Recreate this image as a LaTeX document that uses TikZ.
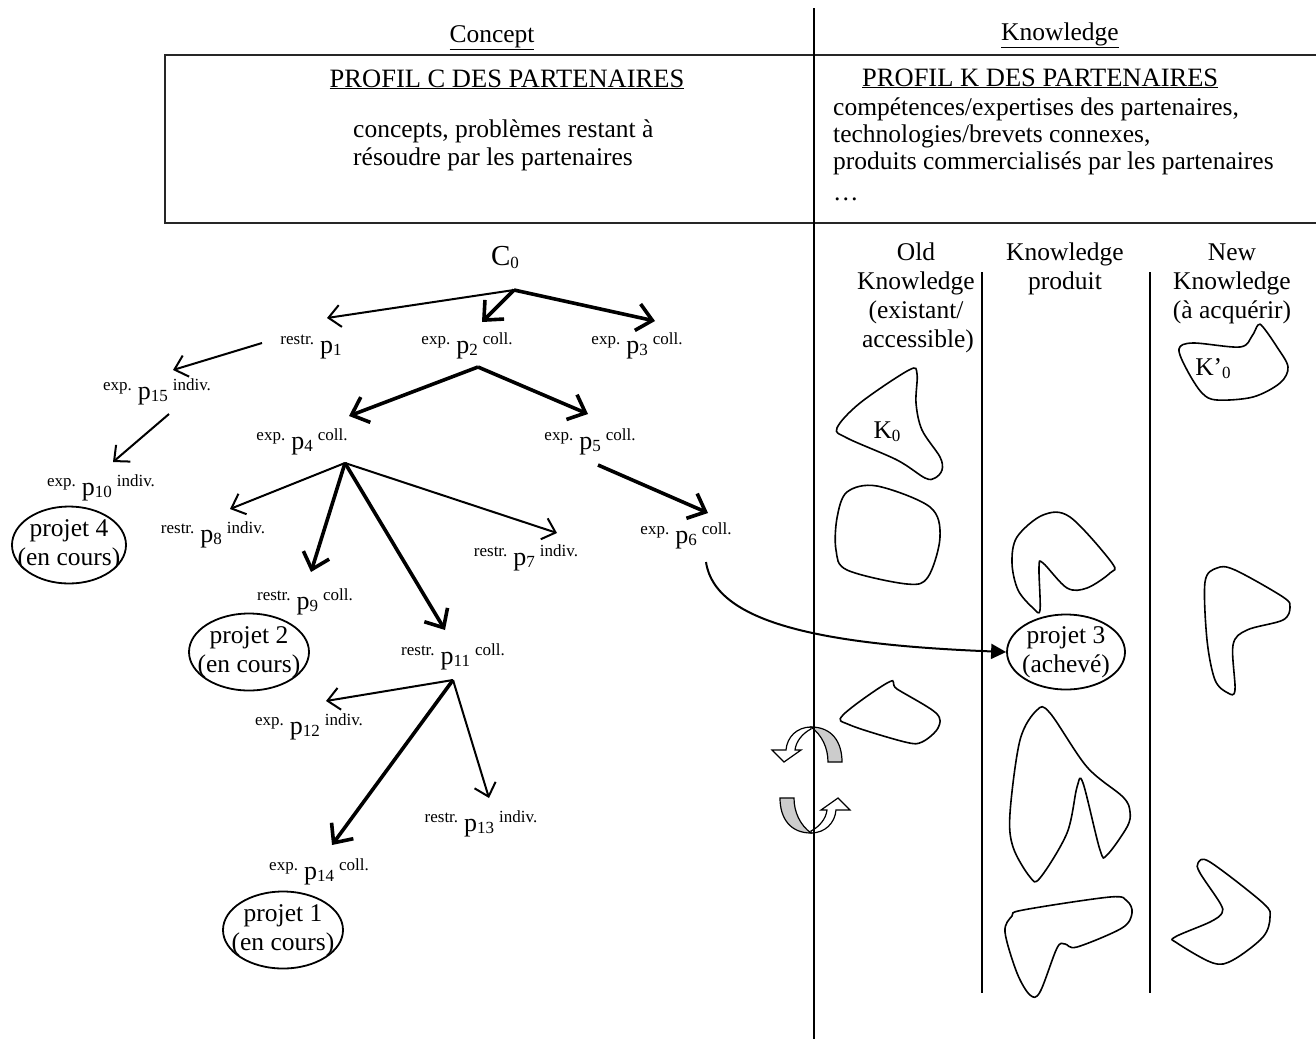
\documentclass[tikz,border=0pt]{standalone}
\usepackage{fontspec}
\setmainfont{Liberation Serif}
\usetikzlibrary{arrows.meta,shapes.geometric}

\newcommand{\sm}[1]{{\fontsize{17}{17}\selectfont #1}}
\newcommand{\pp}[1]{{\fontsize{26}{26}\selectfont p}\raisebox{-2pt}{\sm{#1}}}
\newcommand{\plab}[3]{\raisebox{9pt}{\sm{#1}}\hspace{6pt}\pp{#2}\hspace{5pt}\raisebox{9pt}{\sm{#3}}}
\newcommand{\rotshape}{%
  \filldraw[fill=gray!40, line width=1.2pt] (811,727) .. controls (832,727) and (842,742) .. (842,762) -- (828,762) .. controls (828,748) and (822,735) .. (811,727) -- cycle;
  \filldraw[fill=white, line width=1.2pt] (811,727) .. controls (797,727) and (787,737) .. (786,750) -- (772,750) -- (784,762) -- (801,750) -- (795,750) .. controls (796,741) and (803,733) .. (811,729) -- cycle;
}

\tikzset{
  txt/.style={inner sep=0pt, font=\fontsize{25.5}{29}\selectfont},
  caps/.style={inner sep=0pt, font=\fontsize{26.5}{29}\selectfont},
  lab/.style={inner sep=0pt, anchor=base},
  tarr/.style={line width=2pt, -{Straight Barb[length=12pt,width=22pt]}},
  Tarr/.style={line width=3.6pt, -{Straight Barb[length=15pt,width=27pt]}},
  blob/.style={line width=1.6pt},
  projell/.style={draw, ellipse, line width=1.8pt, minimum width=#1, minimum height=77pt, inner sep=0pt},
  projell/.default=120pt,
  rule/.style={line width=2pt},
}

\begin{document}
\begin{tikzpicture}[x=1pt, y=-1pt]
\useasboundingbox (0,0) rectangle (1316,1039);

% ---------- header box ----------
\draw[line width=2.4pt, black!85] (1325,55) -- (165,55) -- (165,223) -- (1325,223);
\node[txt, anchor=base] (hc) at (492,42) {\underline{Concept}};
\node[txt, anchor=base] (hk) at (1060,40) {\underline{Knowledge}};
\node[caps, anchor=base] (pc) at (507,87) {\underline{PROFIL C DES PARTENAIRES}};
\node[txt, anchor=base west] (pc1) at (353,137) {concepts, problèmes restant à};
\node[txt, anchor=base west] (pc2) at (353,165) {résoudre par les partenaires};
\node[caps, anchor=base west] (pk) at (862,86) {\underline{PROFIL K DES PARTENAIRES}};
\node[txt, anchor=base west] (pk1) at (833,115) {compétences/expertises des partenaires,};
\node[txt, anchor=base west] (pk2) at (833,142) {technologies/brevets connexes,};
\node[txt, anchor=base west] (pk3) at (833,169) {produits commercialisés par les partenaires};
\node[txt, anchor=base west] (pk4) at (833,200) {\dots};

% ---------- knowledge column headings ----------
\node[txt, anchor=base] (o1) at (916,260) {Old};
\node[txt, anchor=base] (o2) at (916,289) {Knowledge};
\node[txt, anchor=base] (o3) at (916,318) {(existant/};
\node[txt, anchor=base] (o4) at (918,347) {accessible)};
\node[txt, anchor=base] (m1) at (1065,260) {Knowledge};
\node[txt, anchor=base] (m2) at (1065,289) {produit};
\node[txt, anchor=base] (n1) at (1232,260) {New};
\node[txt, anchor=base] (n2) at (1232,289) {Knowledge};
\node[txt, anchor=base] (n3) at (1232,318) {(à acquérir)};

% ---------- rotation arrows ----------
\rotshape
\begin{scope}[rotate around={180:(811,780)}]
\rotshape
\end{scope}

% ---------- rules ----------
\draw[rule] (814,8) -- (814,1039);
\draw[rule] (982,272) -- (982,993);
\draw[rule] (1150,272) -- (1150,993);

% ---------- knowledge blobs ----------
\draw[blob] plot[smooth cycle, tension=0.55] coordinates {(837,428) (860,403) (909,370) (917,374) (916,403) (922,430) (940,457) (942,470) (935,478) (925,478) (897,460) (847,438)};
\node[txt, anchor=base] (k0) at (887,438) {K\raisebox{-3pt}{\sm{0}}};
\draw[blob] plot[smooth cycle, tension=0.55] coordinates {(847,492) (877,486) (930,507) (940,537) (928,577) (907,584) (847,570) (836,550) (837,518)};
\draw[blob] plot[smooth cycle, tension=0.55] coordinates {(843,715) (889,682) (897,689) (936,713) (938,728) (922,742) (905,742) (850,725)};
\draw[blob] plot[smooth cycle, tension=0.55] coordinates {(1017,537) (1043,515) (1070,517) (1112,563) (1110,573) (1087,588) (1067,588) (1043,563) (1039,567) (1040,610) (1033,608) (1018,590) (1012,563)};
\draw[blob] plot[smooth cycle, tension=0.55] coordinates {(1020,740) (1037,710) (1050,713) (1087,767) (1123,797) (1130,812) (1127,827) (1107,855) (1100,850) (1083,783) (1077,787) (1067,833) (1040,878) (1030,877) (1013,847) (1010,813)};
\draw[blob] plot[smooth cycle, tension=0.55] coordinates {(1012,916) (1023,910) (1110,897) (1127,901) (1132,913) (1122,928) (1077,947) (1065,944) (1057,948) (1040,992) (1030,995) (1017,973) (1005,932)};
\draw[blob] plot[smooth cycle, tension=0.55] coordinates {(1179,349) (1193,343) (1240,347) (1252,336) (1258,325) (1263,327) (1277,347) (1288,367) (1280,383) (1253,397) (1217,400) (1202,393) (1187,370)};
\node[txt, anchor=base] (k0p) at (1213,375) {K'\raisebox{-3pt}{\sm{0}}};
\draw[blob] plot[smooth cycle, tension=0.55] coordinates {(1205,582) (1217,568) (1235,570) (1283,597) (1290,607) (1283,620) (1247,630) (1233,645) (1235,690) (1228,693) (1215,680) (1207,640)};
\draw[blob] plot[smooth cycle, tension=0.55] coordinates {(1198,863) (1210,862) (1263,903) (1270,917) (1263,937) (1233,960) (1213,963) (1177,943) (1175,937) (1210,922) (1222,913) (1220,903) (1200,873)};

% ---------- tree labels ----------
\node[lab] (c0) at (505,265) {{\fontsize{29}{29}\selectfont C}\raisebox{-3pt}{\sm{0}}};
\node[lab] (p1) at (311,353) {\raisebox{9pt}{\sm{restr.}}\hspace{6pt}\pp{1}};
\node[lab] (p2) at (467,353) {\plab{exp.}{2}{coll.}};
\node[lab] (p3) at (637,353) {\plab{exp.}{3}{coll.}};
\node[lab] (p15) at (157,399) {\plab{exp.}{15}{indiv.}};
\node[lab] (p4) at (302,449) {\plab{exp.}{4}{coll.}};
\node[lab] (p5) at (590,449) {\plab{exp.}{5}{coll.}};
\node[lab] (p10) at (101,495) {\plab{exp.}{10}{indiv.}};
\node[lab] (p8) at (213,542) {\plab{restr.}{8}{indiv.}};
\node[lab] (p6) at (686,543) {\plab{exp.}{6}{coll.}};
\node[lab] (p7) at (526,565) {\plab{restr.}{7}{indiv.}};
\node[lab] (p9) at (305,609) {\plab{restr.}{9}{coll.}};
\node[lab] (p11) at (453,664) {\plab{restr.}{11}{coll.}};
\node[lab] (p12) at (309,734) {\plab{exp.}{12}{indiv.}};
\node[lab] (p13) at (481,831) {\plab{restr.}{13}{indiv.}};
\node[lab] (p14) at (319,879) {\plab{exp.}{14}{coll.}};

% ---------- project ellipses ----------
\node[projell=114pt] (e4) at (69,545) {};
\node[txt, align=center] at (e4) {projet 4\\(en cours)};
\node[projell] (e2) at (249,652) {};
\node[txt, align=center] at (e2) {projet 2\\(en cours)};
\node[projell] (e1) at (283,930) {};
\node[txt, align=center] at (e1) {projet 1\\(en cours)};
\node[projell=118pt, minimum height=75pt] (e3) at (1066,652) {};
\node[txt, align=center] at (e3) {projet 3\\(achevé)};

% ---------- connector anchor points ----------
\coordinate (a0) at (514,290);
\coordinate (a1) at (262,343);
\coordinate (a15) at (169,414);
\coordinate (a2) at (478,367);
\coordinate (a4) at (345,463);
\coordinate (a5) at (598,465);
\coordinate (a6) at (706,562);
\coordinate (a11) at (453,680);

\coordinate (t1) at (327,318);
\coordinate (t2) at (482,322);
\coordinate (t3) at (655,321);
\coordinate (t15) at (173,370);
\coordinate (t10) at (113,462);
\coordinate (t4) at (349,416);
\coordinate (t5) at (588,414);
\coordinate (t8) at (230,509);
\coordinate (t9) at (311,572);
\coordinate (t11) at (445,630);
\coordinate (t7) at (557,533);
\coordinate (t6) at (708,513);
\coordinate (t12) at (326,701);
\coordinate (t14) at (332,845);
\coordinate (t13) at (489,798);

% ---------- connectors ----------
\draw[tarr] (a0) -- (t1);
\draw[Tarr] (a0) -- (t2);
\draw[Tarr] (a0) -- (t3);
\draw[tarr] (a1) -- (t15);
\draw[tarr] (a15) -- (t10);
\draw[Tarr] (a2) -- (t4);
\draw[Tarr] (a2) -- (t5);
\draw[tarr] (a4) -- (t8);
\draw[Tarr] (a4) -- (t9);
\draw[Tarr] (a4) -- (t11);
\draw[tarr] (a4) -- (t7);
\draw[Tarr] (a5) -- (t6);
\draw[tarr] (a11) -- (t12);
\draw[Tarr] (a11) -- (t14);
\draw[tarr] (a11) -- (t13);
\draw[line width=2pt, -{Triangle[length=15pt,width=15pt]}] (a6) .. controls (715,625) and (830,645) .. (e3.west);
\end{tikzpicture}
\end{document}
